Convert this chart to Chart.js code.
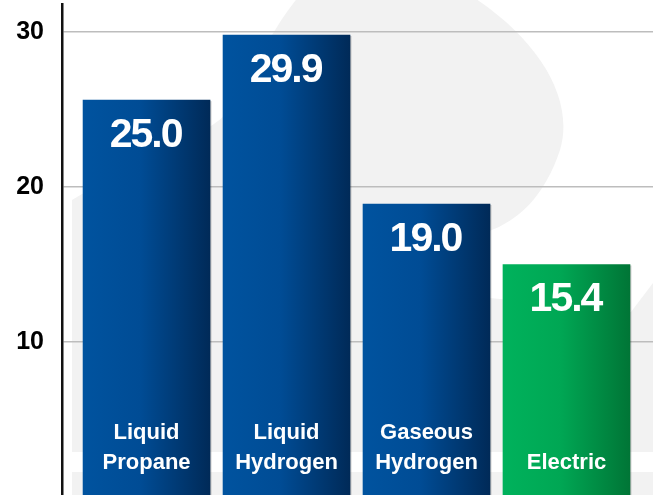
<!DOCTYPE html>
<html>
<head>
<meta charset="utf-8">
<script src="https://cdn.jsdelivr.net/npm/chart.js@4/dist/chart.umd.min.js"></script>
<style>
    html, body { margin: 0; padding: 0; background: #fff; }
    #wrap { width: 653px; height: 495px; position: relative; }
</style>
</head>
<body>
<div id="wrap"><canvas id="fuelChart"></canvas></div>
<script>
// chart data
const categories = [['Liquid', 'Propane'], ['Liquid', 'Hydrogen'], ['Gaseous', 'Hydrogen'], ['Electric']];
const valueLabels = ['25.0', '29.9', '19.0', '15.4'];
// bar heights as drawn against the axis (the artwork is not exactly to scale)
const barValues = [25.6, 29.8, 18.9, 15.0];
const yTicks = [10, 20, 30];
const isElectric = [false, false, false, true];

const FONT = '"Liberation Sans", Arial, Helvetica, sans-serif';
const BAR_WIDTH = 127;

document.addEventListener('DOMContentLoaded', function () {
    renderFuelChart();
});

/**
 * Horizontal gradient for one bar, blue for fuels and green for electric.
 */
function barGradient(context) {
    const chart = context.chart;
    const xScale = chart.scales.x;
    const i = context.dataIndex;
    const green = isElectric[i];
    if (!chart.chartArea || !xScale || i === undefined) {
        return green ? '#00a555' : '#004f9c';
    }
    const cx = xScale.getPixelForValue(i);
    const half = BAR_WIDTH / 2;
    const g = chart.ctx.createLinearGradient(cx - half, 0, cx + half, 0);
    if (green) {
        g.addColorStop(0, '#00b25c');
        g.addColorStop(0.45, '#00a754');
        g.addColorStop(1, '#007536');
    } else {
        g.addColorStop(0, '#00539f');
        g.addColorStop(0.45, '#004c95');
        g.addColorStop(1, '#002a58');
    }
    return g;
}

// faint logo shape behind the grid
const backdropPlugin = {
    id: 'backdrop',
    beforeDraw(chart) {
        const ctx = chart.ctx;
        ctx.save();
        ctx.fillStyle = '#fff';
        ctx.fillRect(0, 0, chart.width, chart.height);
        ctx.fillStyle = '#f2f2f2';
        ctx.beginPath();
        ctx.moveTo(72, 452);
        ctx.lineTo(72, 200);
        ctx.bezierCurveTo(120, 170, 200, 140, 225, 115);
        ctx.bezierCurveTo(250, 80, 270, 30, 300, -5);
        ctx.lineTo(470, -5);
        ctx.bezierCurveTo(540, 40, 575, 100, 560, 150);
        ctx.bezierCurveTo(545, 195, 520, 220, 487, 232);
        ctx.lineTo(490, 298);
        ctx.lineTo(631, 312);
        ctx.lineTo(653, 283);
        ctx.lineTo(653, 452);
        ctx.closePath();
        ctx.fill();
        ctx.fillRect(72, 472, 581, 30);
        ctx.restore();
    }
};

// value labels at top of bars and category names at the bottom
const barTextPlugin = {
    id: 'barText',
    afterDatasetsDraw(chart) {
        const ctx = chart.ctx;
        const meta = chart.getDatasetMeta(0);
        const bottom = chart.chartArea.bottom;
        ctx.save();
        // thin shadow on the right edge of each bar
        ctx.fillStyle = 'rgba(0,0,0,0.18)';
        meta.data.forEach(function (bar) {
            ctx.fillRect(bar.x + BAR_WIDTH / 2, bar.y + 1, 1.5, bottom - bar.y);
        });
        ctx.fillStyle = '#fff';
        ctx.textAlign = 'center';
        ctx.textBaseline = 'alphabetic';
        meta.data.forEach(function (bar, i) {
            ctx.font = 'bold 41px ' + FONT;
            ctx.letterSpacing = '-2px';
            ctx.fillText(valueLabels[i], bar.x - 1, bar.y + 47);

            ctx.font = 'bold 22px ' + FONT;
            ctx.letterSpacing = '0px';
            const lines = categories[i];
            lines.forEach(function (line, k) {
                const fromEnd = lines.length - 1 - k;
                ctx.fillText(line, bar.x, bottom - 26 - fromEnd * 30);
            });
        });
        ctx.restore();
    }
};

function renderFuelChart() {
    const ctx = document.getElementById('fuelChart').getContext('2d');
    new Chart(ctx, {
        type: 'bar',
        data: {
            datasets: [{
                data: barValues.map((v, i) => ({ x: i, y: v })),
                backgroundColor: barGradient,
                borderWidth: 0,
                barThickness: BAR_WIDTH
            }]
        },
        options: {
            responsive: true,
            maintainAspectRatio: false,
            animation: false,
            devicePixelRatio: 1,
            layout: { padding: { top: 4, right: 0, bottom: 0, left: 0 } },
            plugins: {
                legend: { display: false },
                tooltip: { enabled: false }
            },
            scales: {
                x: {
                    type: 'linear',
                    display: false,
                    offset: false,
                    min: -0.604,
                    max: 3.618
                },
                y: {
                    min: 0.13,
                    max: 31.8,
                    afterBuildTicks: function (scale) {
                        scale.ticks = yTicks.map(v => ({ value: v }));
                    },
                    afterFit: function (scale) {
                        scale.width = 62;
                        scale.paddingTop = 0;
                        scale.paddingBottom = 0;
                    },
                    border: { display: true, color: '#111', width: 2.5 },
                    grid: {
                        color: '#bdbdbd',
                        lineWidth: 1.6,
                        drawTicks: false
                    },
                    ticks: {
                        color: '#000',
                        padding: 18,
                        font: { family: FONT, size: 25, weight: 'bold' }
                    }
                }
            }
        },
        plugins: [backdropPlugin, barTextPlugin]
    });
}
</script>
</body>
</html>
